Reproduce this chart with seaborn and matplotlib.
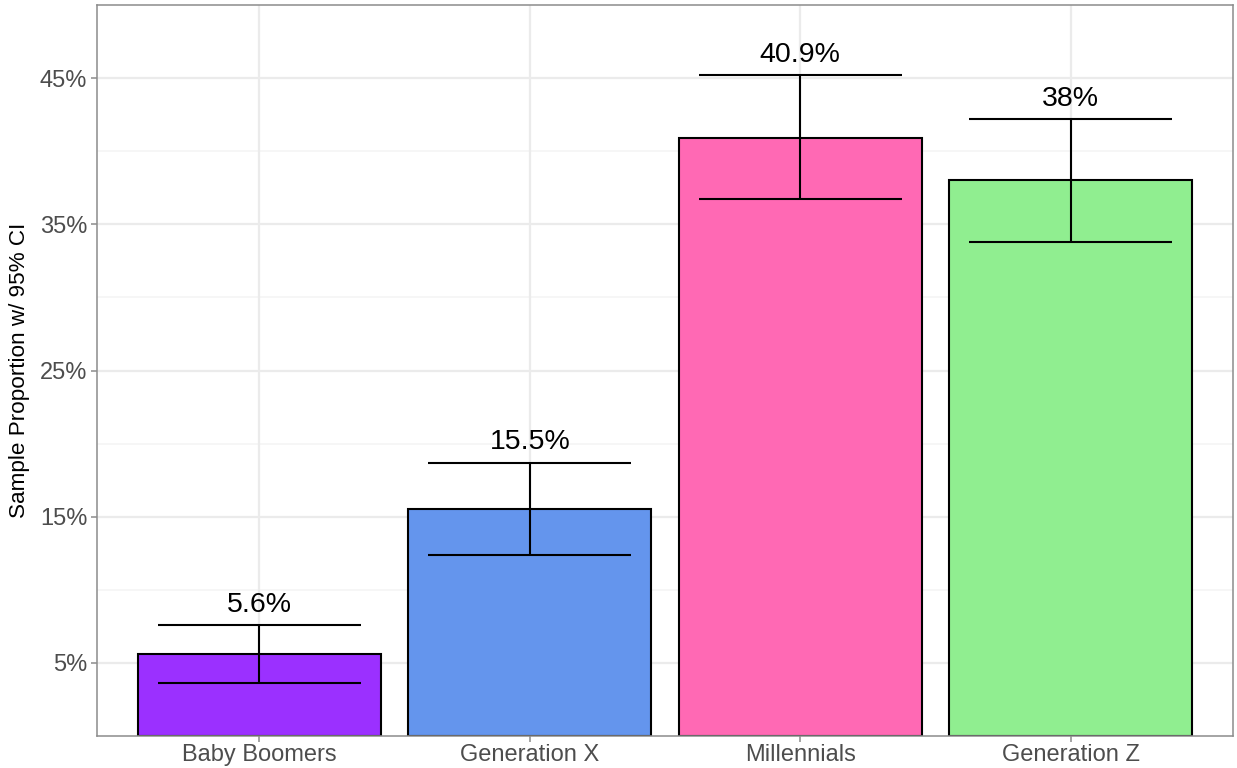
import matplotlib
matplotlib.use("Agg")
import matplotlib.pyplot as plt
import seaborn as sns
import pandas as pd
from matplotlib.ticker import FixedLocator, FuncFormatter

# Sample proportions by generation with 95% confidence limits (percent)
generations = ["Baby Boomers", "Generation X", "Millennials", "Generation Z"]
proportion = [5.6, 15.5, 40.9, 38.0]
ci_lower = [3.6, 12.4, 36.7, 33.8]
ci_upper = [7.6, 18.7, 45.2, 42.2]
value_labels = ["5.6%", "15.5%", "40.9%", "38%"]
bar_colors = ["#9B30FF", "#6495ED", "#FF69B4", "#90EE90"]

df = pd.DataFrame({"generation": generations, "proportion": proportion,
                   "lower": ci_lower, "upper": ci_upper, "label": value_labels})

sns.set_theme(style="white")
plt.rcParams["font.family"] = ["Liberation Sans", "DejaVu Sans"]

fig = plt.figure(figsize=(12.37, 7.68), dpi=100)
ax = fig.add_axes([97 / 1237, 32 / 768, 1136 / 1237, 731 / 768])

grid_major = "#EBEBEB"
grid_minor = "#F4F4F4"
for y in [10, 20, 30, 40]:
    ax.axhline(y, color=grid_minor, lw=1.1, zorder=0)
for y in [5, 15, 25, 35, 45]:
    ax.axhline(y, color=grid_major, lw=1.6, zorder=0)
for x in range(len(generations)):
    ax.axvline(x, color=grid_major, lw=1.6, zorder=0)

sns.barplot(data=df, x="generation", y="proportion", hue="generation",
            palette=bar_colors, saturation=1, width=0.9, edgecolor="black",
            linewidth=1.5, legend=False, dodge=False, ax=ax, zorder=2)

# Confidence intervals drawn as capped error bars
half_cap = 0.375
for i, row in df.iterrows():
    ax.vlines(i, row["lower"], row["upper"], color="black", lw=1.5, zorder=3)
    ax.hlines([row["lower"], row["upper"]], i - half_cap, i + half_cap,
              color="black", lw=1.5, zorder=3)
    ax.annotate(row["label"], xy=(i, row["upper"]), xytext=(0, 9.5),
                textcoords="offset points", ha="center", va="baseline",
                fontsize=20.5, color="black", zorder=4)

ax.set_xlim(-0.6, len(generations) - 0.4)
ax.set_ylim(0, 50)
ax.yaxis.set_major_locator(FixedLocator([5, 15, 25, 35, 45]))
ax.yaxis.set_major_formatter(FuncFormatter(lambda v, p: f"{v:.0f}%"))

ax.set_xlabel("")
ax.set_ylabel("Sample Proportion w/ 95% CI", fontsize=16.2, color="black", labelpad=7)
ax.tick_params(axis="both", which="major", labelsize=17, labelcolor="#4D4D4D",
               color="#8C8C8C", length=4, width=1.1, left=True, bottom=True, pad=3)
ax.tick_params(axis="x", pad=2)

for spine in ax.spines.values():
    spine.set_color("#8C8C8C")
    spine.set_linewidth(1.1)
    spine.set_zorder(5)

fig.savefig("out.png", dpi=100)
